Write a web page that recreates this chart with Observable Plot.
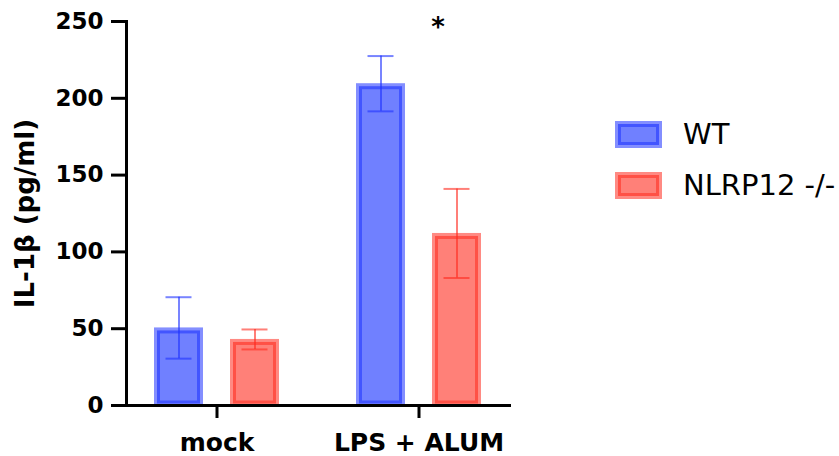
<!DOCTYPE html>
<html>
<head>
<meta charset="utf-8">
<script src="https://cdn.jsdelivr.net/npm/d3@7"></script>
<script src="https://cdn.jsdelivr.net/npm/@observablehq/plot@0.6"></script>
<style>
  html, body { margin: 0; padding: 0; background: #fff; }
  #wrap { position: relative; width: 839px; height: 456px; }
  #legend { position: absolute; left: 615px; top: 121px; font-family: "DejaVu Sans", sans-serif; font-size: 29px; color: #000; }
  .row { display: flex; align-items: center; height: 27px; margin-bottom: 24px; }
  .row svg { margin-right: 21px; flex: none; }
  .row span { line-height: 27px; }
  g[aria-label="y-axis label"] text { font-size: 26px; }
</style>
</head>
<body>
<div id="wrap"><div id="chart"></div><div id="legend"></div></div>
<script>
const groups = ["mock", "LPS + ALUM"];
const genotypes = ["WT", "NLRP12 -/-"];
const meanWT = [50.5, 209.5];
const sdWT = [20, 18];
const meanKO = [43, 112];
const sdKO = [6.5, 29];
const yTicks = [0, 50, 100, 150, 200, 250];
const yLabel = "IL-1β (pg/ml)";
const sig = [{group: "LPS + ALUM", label: "*", y: 246}];

const fillColor = {"WT": "#7080ff", "NLRP12 -/-": "#ff8078"};
const strokeColor = {"WT": "#1e32ff", "NLRP12 -/-": "#ff2a1e"};

const rows = [];
groups.forEach((g, i) => {
  rows.push({group: g, genotype: genotypes[0], mean: meanWT[i], sd: sdWT[i]});
  rows.push({group: g, genotype: genotypes[1], mean: meanKO[i], sd: sdKO[i]});
});

const chart = Plot.plot({
  width: 839,
  height: 456,
  marginLeft: 125,
  marginRight: 329,
  marginTop: 21,
  marginBottom: 51,
  style: {fontFamily: "DejaVu Sans, sans-serif", fontSize: "23px", fontWeight: "bold", color: "#000", background: "#fff", overflow: "visible"},
  fx: {domain: groups, paddingInner: 0.103, paddingOuter: 0},
  x: {domain: genotypes, paddingInner: 0.429, paddingOuter: 0.396, axis: null},
  y: {domain: [0, 250]},
  color: {type: "identity"},
  marks: [
    Plot.barY(rows, {fx: "group", x: "genotype", y: "mean",
      fill: d => fillColor[d.genotype], stroke: d => strokeColor[d.genotype],
      strokeWidth: 6, strokeOpacity: 0.55, insetTop: 3, insetBottom: 1.5}),
    Plot.ruleX(rows, {fx: "group", x: "genotype", y1: d => d.mean - d.sd, y2: d => d.mean + d.sd,
      stroke: d => strokeColor[d.genotype], strokeOpacity: 0.6, strokeWidth: 2}),
    Plot.tickY(rows, {fx: "group", x: "genotype", y: d => d.mean + d.sd,
      stroke: d => strokeColor[d.genotype], strokeOpacity: 0.6, strokeWidth: 2, insetLeft: 8.5, insetRight: 8.5}),
    Plot.tickY(rows, {fx: "group", x: "genotype", y: d => d.mean - d.sd,
      stroke: d => strokeColor[d.genotype], strokeOpacity: 0.6, strokeWidth: 2, insetLeft: 8.5, insetRight: 8.5}),
    Plot.text(sig, {fx: "group", y: "y", text: "label", dx: 19, fontSize: 26, fontWeight: "bold"}),
    Plot.frame({anchor: "bottom", facet: "super", strokeWidth: 3, stroke: "#000"}),
    Plot.frame({anchor: "left", facet: "super", strokeWidth: 3, stroke: "#000"}),
    Plot.axisY({ticks: yTicks, tickSize: 15, tickPadding: 8, strokeWidth: 3, tickFormat: d => String(d),
      label: yLabel, labelAnchor: "center", labelOffset: 111, labelArrow: "none"}),
    Plot.axisFx({anchor: "bottom", tickSize: 13, tickPadding: 15, strokeWidth: 3, fontSize: 25, label: null})
  ]
});
document.getElementById("chart").appendChild(chart);

const legend = document.getElementById("legend");
genotypes.forEach(g => {
  const row = document.createElement("div");
  row.className = "row";
  row.innerHTML = `<svg width="47" height="27"><rect x="3" y="3" width="41" height="21" fill="${fillColor[g]}" stroke="${strokeColor[g]}" stroke-opacity="0.55" stroke-width="6"/></svg><span>${g}</span>`;
  legend.appendChild(row);
});
</script>
</body>
</html>
